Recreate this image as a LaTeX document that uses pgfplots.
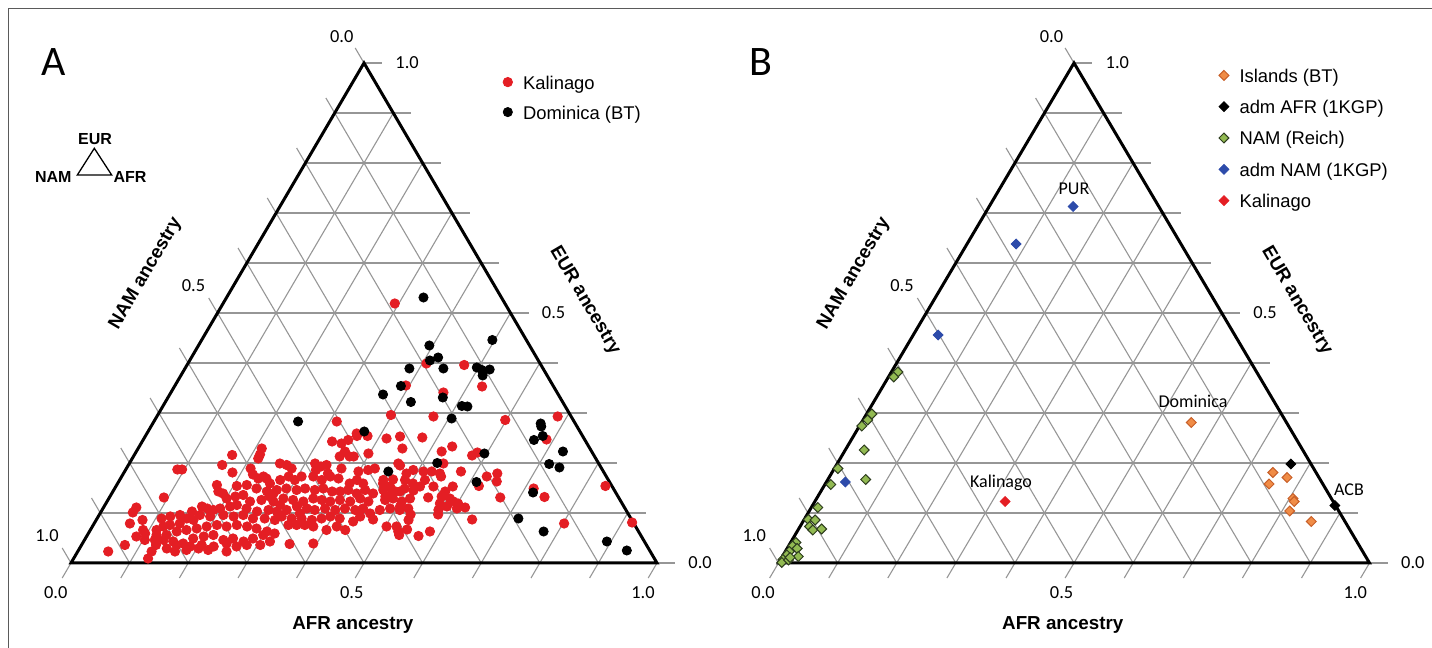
\documentclass[border=0pt]{standalone}
\usepackage{pgfplots}
\pgfplotsset{compat=1.18}
\usepackage{pgfplotstable}
\usepackage{fontspec}
\setmainfont{Liberation Sans}
\newfontfamily\carl{Carlito}

\definecolor{kred}{RGB}{228,30,36}
\definecolor{gridc}{RGB}{150,150,150}
\definecolor{isl}{RGB}{240,140,70}
\definecolor{isledge}{RGB}{200,95,40}
\definecolor{nam}{RGB}{146,186,82}
\definecolor{namedge}{RGB}{45,60,30}
\definecolor{admnam}{RGB}{45,75,170}
\definecolor{framec}{RGB}{90,90,90}

% panel A: ternary values (AFR, EUR); NAM = 1 - AFR - EUR
\pgfplotstableread[row sep=\\]{
afr eur \\
0.211 0.229 \\ 0.214 0.217 \\ 0.215 0.209 \\ 0.167 0.216 \\ 0.160 0.196 \\ 0.088 0.187 \\
0.096 0.187 \\ 0.185 0.181 \\ 0.212 0.189 \\ 0.222 0.177 \\ 0.249 0.169 \\ 0.235 0.169 \\
0.206 0.154 \\ 0.222 0.156 \\ 0.242 0.149 \\ 0.276 0.139 \\ 0.093 0.131 \\ 0.180 0.143 \\
0.190 0.139 \\ 0.201 0.129 \\ 0.214 0.133 \\ 0.226 0.136 \\ 0.244 0.123 \\ 0.262 0.126 \\
0.284 0.123 \\ 0.056 0.111 \\ 0.055 0.101 \\ 0.123 0.093 \\ 0.110 0.089 \\ 0.079 0.086 \\
0.061 0.079 \\ 0.178 0.109 \\ 0.190 0.106 \\ 0.200 0.109 \\ 0.215 0.113 \\ 0.225 0.116 \\
0.245 0.109 \\ 0.266 0.103 \\ 0.284 0.106 \\ 0.300 0.103 \\ 0.172 0.096 \\ 0.191 0.093 \\
0.212 0.096 \\ 0.231 0.093 \\ 0.246 0.096 \\ 0.266 0.089 \\ 0.286 0.089 \\ 0.305 0.086 \\
0.153 0.089 \\ 0.166 0.086 \\ 0.146 0.079 \\ 0.131 0.076 \\ 0.121 0.073 \\ 0.090 0.066 \\
0.097 0.059 \\ 0.085 0.053 \\ 0.113 0.066 \\ 0.118 0.056 \\ 0.135 0.056 \\ 0.149 0.063 \\
0.164 0.066 \\ 0.180 0.069 \\ 0.195 0.073 \\ 0.211 0.076 \\ 0.229 0.073 \\ 0.245 0.076 \\
0.264 0.073 \\ 0.282 0.069 \\ 0.303 0.063 \\ 0.318 0.059 \\ 0.135 0.046 \\ 0.153 0.043 \\
0.172 0.039 \\ 0.184 0.049 \\ 0.200 0.053 \\ 0.215 0.056 \\ 0.237 0.046 \\ 0.252 0.049 \\
0.273 0.043 \\ 0.286 0.049 \\ 0.300 0.056 \\ 0.127 0.036 \\ 0.149 0.029 \\ 0.162 0.036 \\
0.184 0.026 \\ 0.203 0.029 \\ 0.221 0.026 \\ 0.246 0.039 \\ 0.074 0.036 \\ 0.052 0.023 \\
0.127 0.009 \\ 0.257 0.199 \\ 0.270 0.196 \\ 0.282 0.189 \\ 0.317 0.199 \\ 0.330 0.193 \\
0.338 0.196 \\ 0.324 0.243 \\ 0.312 0.283 \\ 0.342 0.239 \\ 0.350 0.246 \\ 0.356 0.223 \\
0.358 0.259 \\ 0.367 0.189 \\ 0.376 0.213 \\ 0.354 0.038 \\ 0.394 0.039 \\ 0.361 0.254 \\
0.379 0.254 \\ 0.414 0.249 \\ 0.435 0.253 \\ 0.474 0.251 \\ 0.451 0.229 \\ 0.534 0.233 \\
0.521 0.223 \\ 0.352 0.213 \\ 0.369 0.213 \\ 0.398 0.219 \\ 0.325 0.186 \\ 0.349 0.179 \\
0.459 0.199 \\ 0.483 0.179 \\ 0.491 0.186 \\ 0.510 0.183 \\ 0.524 0.183 \\ 0.540 0.179 \\
0.399 0.183 \\ 0.414 0.186 \\ 0.424 0.189 \\ 0.242 0.173 \\ 0.260 0.159 \\ 0.274 0.166 \\
0.285 0.173 \\ 0.299 0.166 \\ 0.307 0.173 \\ 0.327 0.173 \\ 0.345 0.166 \\ 0.356 0.173 \\
0.372 0.169 \\ 0.396 0.159 \\ 0.405 0.166 \\ 0.419 0.159 \\ 0.450 0.166 \\ 0.466 0.167 \\
0.462 0.153 \\ 0.487 0.166 \\ 0.504 0.159 \\ 0.519 0.153 \\ 0.521 0.166 \\ 0.542 0.153 \\
0.575 0.153 \\ 0.567 0.143 \\ 0.263 0.143 \\ 0.278 0.146 \\ 0.293 0.149 \\ 0.312 0.146 \\
0.325 0.149 \\ 0.343 0.146 \\ 0.356 0.149 \\ 0.374 0.143 \\ 0.388 0.143 \\ 0.400 0.146 \\
0.418 0.139 \\ 0.429 0.146 \\ 0.460 0.146 \\ 0.478 0.139 \\ 0.490 0.143 \\ 0.298 0.129 \\
0.316 0.126 \\ 0.335 0.123 \\ 0.349 0.129 \\ 0.365 0.126 \\ 0.381 0.123 \\ 0.396 0.126 \\
0.415 0.123 \\ 0.429 0.129 \\ 0.446 0.123 \\ 0.473 0.126 \\ 0.485 0.129 \\ 0.503 0.123 \\
0.514 0.129 \\ 0.566 0.133 \\ 0.582 0.129 \\ 0.591 0.123 \\ 0.315 0.106 \\ 0.329 0.113 \\
0.348 0.109 \\ 0.363 0.106 \\ 0.379 0.109 \\ 0.398 0.106 \\ 0.413 0.109 \\ 0.432 0.106 \\
0.444 0.109 \\ 0.474 0.106 \\ 0.490 0.109 \\ 0.508 0.106 \\ 0.521 0.109 \\ 0.574 0.106 \\
0.585 0.113 \\ 0.604 0.109 \\ 0.313 0.093 \\ 0.332 0.089 \\ 0.349 0.089 \\ 0.368 0.086 \\
0.383 0.089 \\ 0.396 0.093 \\ 0.414 0.089 \\ 0.440 0.083 \\ 0.472 0.087 \\ 0.333 0.076 \\
0.347 0.076 \\ 0.361 0.076 \\ 0.377 0.073 \\ 0.502 0.073 \\ 0.519 0.073 \\ 0.527 0.063 \\
0.566 0.054 \\ 0.581 0.063 \\ 0.293 0.519 \\ 0.407 0.399 \\ 0.473 0.396 \\ 0.394 0.355 \\
0.525 0.353 \\ 0.465 0.341 \\ 0.398 0.296 \\ 0.472 0.293 \\ 0.598 0.286 \\ 0.684 0.293 \\
0.688 0.247 \\ 0.577 0.215 \\ 0.583 0.221 \\ 0.464 0.195 \\ 0.536 0.199 \\ 0.545 0.173 \\
0.574 0.183 \\ 0.623 0.173 \\ 0.638 0.179 \\ 0.645 0.163 \\ 0.619 0.154 \\ 0.715 0.149 \\
0.742 0.132 \\ 0.835 0.154 \\ 0.667 0.131 \\ 0.512 0.145 \\ 0.495 0.149 \\ 0.544 0.131 \\
0.601 0.119 \\ 0.617 0.111 \\ 0.578 0.097 \\ 0.531 0.097 \\ 0.641 0.087 \\ 0.540 0.067 \\
0.532 0.056 \\ 0.802 0.079 \\ 0.917 0.081 \\ 0.453 0.159 \\ 0.468 0.153 \\ 0.482 0.143 \\
0.470 0.133 \\ 0.505 0.113 \\ 0.446 0.139 \\ 0.570 0.119 \\ 0.171 0.156 \\ 0.167 0.113 \\
0.155 0.103 \\ 0.138 0.096 \\ 0.120 0.046 \\ 0.187 0.033 \\ 0.205 0.036 \\ 0.227 0.033 \\
0.266 0.033 \\ 0.282 0.036 \\ 0.305 0.036 \\ 0.318 0.043 \\ 0.254 0.023 \\ 0.166 0.023 \\
0.103 0.046 \\ 0.126 0.023 \\ 0.273 0.133 \\ 0.299 0.116 \\ 0.341 0.099 \\ 0.447 0.093 \\
0.417 0.073 \\ 0.435 0.066 \\ 0.403 0.066 \\ 0.461 0.099 \\ 0.533 0.086 \\
}\kalA

\pgfplotstableread[row sep=\\]{
afr eur \\
0.246 0.283 \\ 0.369 0.263 \\ 0.336 0.531 \\ 0.496 0.446 \\ 0.394 0.435 \\ 0.410 0.405 \\
0.421 0.411 \\ 0.383 0.389 \\ 0.441 0.389 \\ 0.497 0.391 \\ 0.508 0.386 \\ 0.521 0.387 \\
0.515 0.375 \\ 0.386 0.354 \\ 0.364 0.337 \\ 0.469 0.331 \\ 0.419 0.322 \\ 0.510 0.314 \\
0.520 0.313 \\ 0.505 0.289 \\ 0.662 0.279 \\ 0.666 0.273 \\ 0.678 0.254 \\ 0.667 0.246 \\
0.728 0.223 \\ 0.596 0.219 \\ 0.525 0.200 \\ 0.717 0.198 \\ 0.738 0.191 \\ 0.450 0.183 \\
0.611 0.162 \\ 0.718 0.141 \\ 0.719 0.089 \\ 0.775 0.063 \\ 0.893 0.043 \\ 0.936 0.025 \\
}\domA

% panel B
\pgfplotstableread[row sep=\\]{
afr eur \\
0.558 0.281 \\ 0.746 0.181 \\ 0.775 0.171 \\ 0.751 0.158 \\ 0.806 0.129 \\ 0.811 0.123 \\
0.813 0.104 \\ 0.860 0.083 \\
}\islB
\pgfplotstableread[row sep=\\]{
afr eur \\
0.768 0.198 \\ 0.884 0.115 \\
}\admafrB
\pgfplotstableread[row sep=\\]{
afr eur \\
0.011 0.382 \\ 0.009 0.372 \\ 0.009 0.298 \\ 0.008 0.286 \\ 0.004 0.274 \\ 0.032 0.226 \\
0.064 0.167 \\ 0.006 0.189 \\ 0.010 0.157 \\ 0.011 0.111 \\ 0.007 0.087 \\ 0.019 0.086 \\
0.016 0.073 \\ 0.025 0.066 \\ 0.039 0.068 \\ 0.009 0.041 \\ 0.007 0.034 \\ 0.017 0.029 \\
0.007 0.023 \\ 0.027 0.013 \\ 0.006 0.016 \\ 0.004 0.007 \\ 0.005 0.001 \\ 0.014 0.006 \\
0.014 0.011 \\
}\namB
\pgfplotstableread[row sep=\\]{
afr eur \\
0.142 0.713 \\ 0.083 0.638 \\ 0.042 0.456 \\ 0.032 0.162 \\
}\admnamB
\pgfplotstableread[row sep=\\]{
afr eur \\
0.322 0.123 \\
}\kalB

\tikzset{
  tlab/.style={font=\carl\fontsize{9.2}{11}\selectfont, inner sep=0pt},
  alab/.style={font=\bfseries\fontsize{9.4}{11}\selectfont, inner sep=0pt, anchor=base},
  gl/.style={gridc, line width=0.55pt},
}
\pgfplotsset{
  tern/.style={anchor=south west, scale only axis, height=250pt,
    xmin=0, xmax=1, ymin=0, ymax=1, hide axis, clip=false,
    legend cell align=left,
    legend image code/.code={\draw[##1] plot coordinates {(0pt,0pt)};},
    legend style={draw=none, fill=none, anchor=north west, inner sep=0pt,
      font=\fontsize{9.2}{11}\selectfont, column sep=5.3pt,
      nodes={inner sep=0pt, text height=7pt, text depth=0pt}},
  },
  dia/.style={only marks, mark=square*, mark size=1.75pt},
}

% grid, ticks and frame of one triangle
\newcommand\terngrid{%
  \pgfplotsinvokeforeach{0,...,10}{%
    \draw[gl] (axis cs:{##1*0.05},{##1*0.1}) -- (axis cs:{1.031-##1*0.05},{##1*0.1});
    \draw[gl] (axis cs:{##1*0.1-0.015},-0.03) -- (axis cs:{0.5+##1*0.05},{1-##1*0.1});
    \draw[gl] (axis cs:{##1*0.1},0) -- (axis cs:{##1*0.05-0.015},{##1*0.1+0.03});
  }%
  \draw[black, line width=1.5pt] (axis cs:0,0) -- (axis cs:1,0) -- (axis cs:0.5,1) -- cycle;
  \node[tlab] at (axis cs:-0.026,-0.06) {0.0};
  \node[tlab] at (axis cs:0.479,-0.06) {0.5};
  \node[tlab] at (axis cs:0.976,-0.06) {1.0};
  \node[tlab, anchor=west] at (axis cs:1.053,0) {0.0};
  \node[tlab, anchor=west] at (axis cs:0.803,0.5) {0.5};
  \node[tlab, anchor=west] at (axis cs:0.553,1) {1.0};
  \node[tlab] at (axis cs:-0.041,0.055) {1.0};
  \node[tlab] at (axis cs:0.209,0.555) {0.5};
  \node[tlab] at (axis cs:0.462,1.052) {0.0};
  \node[alab] at (axis cs:0.481,-0.133) {AFR ancestry};
  \node[alab, rotate=59.6] at (axis cs:0.1345,0.574) {NAM ancestry};
  \node[alab, rotate=-59.6] at (axis cs:0.87,0.52) {EUR ancestry};
}

\begin{document}
\begin{tikzpicture}
\useasboundingbox (0,0) rectangle (716pt,324pt);
\draw[framec, line width=0.5pt] (4.15pt,0pt) -- (4.15pt,319.5pt) -- (716pt,319.5pt);

% ---------- A ----------
\begin{axis}[tern, at={(35.5pt,42.5pt)}, width=293pt,
  legend style={at={(axis cs:0.7367,0.9766)}, row sep=8pt}]
\terngrid
\addplot[only marks, mark=*, mark size=2.35pt, kred]
  table[x expr=\thisrow{afr}+0.5*\thisrow{eur}, y=eur] {\kalA};
\addlegendentry{Kalinago}
\addplot[only marks, mark=*, mark size=2.3pt, black]
  table[x expr=\thisrow{afr}+0.5*\thisrow{eur}, y=eur] {\domA};
\addlegendentry{Dominica (BT)}
\node[font=\carl\fontsize{21}{24}\selectfont, inner sep=0pt] at (axis cs:-0.0295,1.0026) {A};
\draw[line width=0.65pt] (axis cs:0.0108,0.776) -- (axis cs:0.0694,0.776) -- (axis cs:0.0398,0.8294) -- cycle;
\node[font=\bfseries\fontsize{8}{9}\selectfont, inner sep=0pt] at (axis cs:0.041,0.8474) {EUR};
\node[font=\bfseries\fontsize{8}{9}\selectfont, inner sep=0pt] at (axis cs:-0.0302,0.7726) {NAM};
\node[font=\bfseries\fontsize{8}{9}\selectfont, inner sep=0pt] at (axis cs:0.1007,0.7726) {AFR};
\end{axis}

% ---------- B ----------
\begin{axis}[tern, at={(389.25pt,42.5pt)}, width=295.5pt,
  legend style={at={(axis cs:0.7447,0.99)}, row sep=8.65pt}]
\terngrid
\addplot[dia, mark options={rotate=45, fill=isl, draw=isledge, line width=0.5pt}]
  table[x expr=\thisrow{afr}+0.5*\thisrow{eur}, y=eur] {\islB};
\addlegendentry{Islands (BT)}
\addplot[dia, mark options={rotate=45, fill=black, draw=black}]
  table[x expr=\thisrow{afr}+0.5*\thisrow{eur}, y=eur] {\admafrB};
\addlegendentry{adm AFR (1KGP)}
\addplot[dia, mark options={rotate=45, fill=nam, draw=namedge, line width=0.5pt}]
  table[x expr=\thisrow{afr}+0.5*\thisrow{eur}, y=eur] {\namB};
\addlegendentry{NAM (Reich)}
\addplot[dia, mark options={rotate=45, fill=admnam, draw=admnam}]
  table[x expr=\thisrow{afr}+0.5*\thisrow{eur}, y=eur] {\admnamB};
\addlegendentry{adm NAM (1KGP)}
\addplot[dia, mark options={rotate=45, fill=kred, draw=kred}]
  table[x expr=\thisrow{afr}+0.5*\thisrow{eur}, y=eur] {\kalB};
\addlegendentry{Kalinago}
\node[font=\carl\fontsize{21}{24}\selectfont, inner sep=0pt] at (axis cs:-0.0296,1.0026) {B};
\node[font=\carl\fontsize{9}{11}\selectfont] at (axis cs:0.5,0.748) {PUR};
\node[font=\carl\fontsize{9}{11}\selectfont] at (axis cs:0.7014,0.324) {Dominica};
\node[font=\carl\fontsize{9}{11}\selectfont] at (axis cs:0.3765,0.16) {Kalinago};
\node[font=\carl\fontsize{9}{11}\selectfont] at (axis cs:0.9653,0.146) {ACB};
\end{axis}
\end{tikzpicture}
\end{document}
